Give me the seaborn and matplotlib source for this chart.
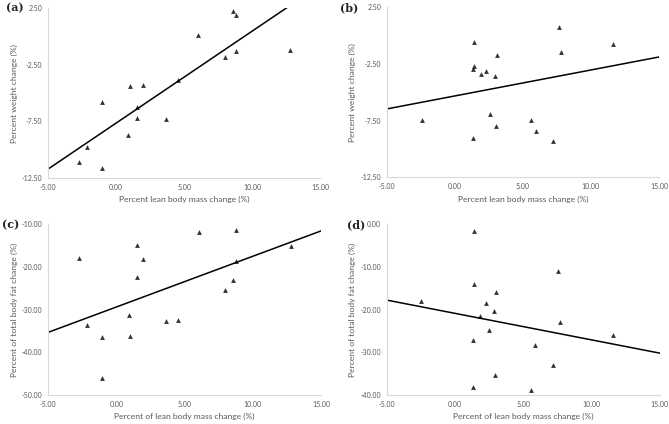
import numpy as np
import pandas as pd
import matplotlib
matplotlib.use("Agg")
import matplotlib.pyplot as plt
import seaborn as sns

# Panel (a) and (c): lean body mass change (%) shared x values
lbm_ac = [8.55, 8.79, 6.04, 12.77, 8.77, 7.98, 4.52, 1.04, 1.97, -1.02,
          1.53, 1.53, 3.66, 0.91, -2.15, -2.74, -1.02]
weight_a = [2.20, 1.85, 0.15, -1.24, -1.26, -1.85, -3.82, -4.38, -4.29, -5.82,
            -6.26, -7.18, -7.26, -8.74, -9.79, -11.06, -11.65]
fat_c = [-23.05, -11.4, -11.8, -15.08, -18.6, -25.5, -32.5, -36.2, -18.2, -36.5,
         -14.84, -22.5, -32.7, -31.2, -33.6, -17.9, -46.1]

# Panel (b)
lbm_b = [7.63, 1.41, 11.65, 7.78, 3.13, 1.41, 1.36, 2.32, 1.90, 2.96,
         2.56, -2.43, 5.62, 3.03, 5.97, 1.34, 7.24]
weight_b = [0.76, -0.56, -0.71, -1.41, -1.71, -2.65, -2.91, -3.12, -3.38, -3.59,
            -6.88, -7.41, -7.47, -7.97, -8.41, -9.00, -9.32]

# Panel (d)
lbm_d = [1.41, 7.57, 1.43, 3.04, -2.46, 2.26, 2.90, 1.87, 7.71, 2.53,
         11.58, 1.31, 5.90, 7.18, 2.97, 1.31, 5.59]
fat_d = [-1.63, -11.1, -14.1, -15.8, -17.9, -18.4, -20.3, -21.6, -23.0, -24.7,
         -25.9, -27.1, -28.3, -33.0, -35.2, -38.1, -38.7]

x_ticks = [-5, 0, 5, 10, 15]
yticks_w = [2.5, -2.5, -7.5, -12.5]
yticks_fc = [-10, -20, -30, -40, -50]
yticks_fd = [0, -10, -20, -30, -40]

panels = [
    ("(a)", lbm_ac, weight_a, yticks_w, (-12.5, 2.5),
     "Percent lean body mass change (%)", "Percent weight change (%)"),
    ("(b)", lbm_b, weight_b, yticks_w, (-12.5, 2.5),
     "Percent lean body mass change (%)", "Percent weight change (%)"),
    ("(c)", lbm_ac, fat_c, yticks_fc, (-50, -10),
     "Percent of lean body mass change (%)", "Percent of total body fat change (%)"),
    ("(d)", lbm_d, fat_d, yticks_fd, (-40, 0),
     "Percent of lean body mass change (%)", "Percent of total body fat change (%)"),
]

sns.set_theme(style="white")
plt.rcParams["font.family"] = ["Lato", "DejaVu Sans"]

fig = plt.figure(figsize=(6.69, 4.24), dpi=100)
positions = [
    [0.0718, 0.580, 0.407, 0.401],
    [0.578, 0.582, 0.407, 0.401],
    [0.0718, 0.068, 0.408, 0.404],
    [0.578, 0.068, 0.408, 0.404],
]
label_pos = [(0.009, 0.982), (0.508, 0.982), (0.003, 0.470), (0.518, 0.470)]
gray = "#595959"

for (lab, xs, ys, yt, ylim, xlab, ylab), pos, lp in zip(panels, positions, label_pos):
    ax = fig.add_axes(pos)
    df = pd.DataFrame({"x": xs, "y": ys})
    ax.set_xlim(-5, 15)
    ax.set_ylim(*ylim)
    sns.regplot(data=df, x="x", y="y", ax=ax, ci=None, truncate=False,
                marker="^",
                scatter_kws={"s": 12, "color": "black", "linewidths": 0},
                line_kws={"color": "black", "linewidth": 1.1})
    ax.set_xlim(-5, 15)
    ax.set_ylim(*ylim)
    ax.set_xticks(x_ticks)
    ax.set_xticklabels([f"{v:.2f}" for v in x_ticks])
    ax.set_yticks(yt)
    ax.set_yticklabels([f"{v:.2f}" for v in yt])
    ax.tick_params(axis="both", length=0, labelsize=5, labelcolor=gray, pad=4)
    for s in ["top", "right"]:
        ax.spines[s].set_visible(False)
    for s in ["left", "bottom"]:
        ax.spines[s].set_color("#d9d9d9")
        ax.spines[s].set_linewidth(0.8)
    ax.set_xlabel(xlab, fontsize=6.1, color=gray, labelpad=4)
    ax.set_ylabel(ylab, fontsize=6.1, color=gray, labelpad=3)
    fig.text(lp[0], lp[1], lab, fontsize=8, fontweight="bold",
             family="DejaVu Serif", va="center", ha="left", color="#222222")

fig.savefig("out.png", dpi=100)
